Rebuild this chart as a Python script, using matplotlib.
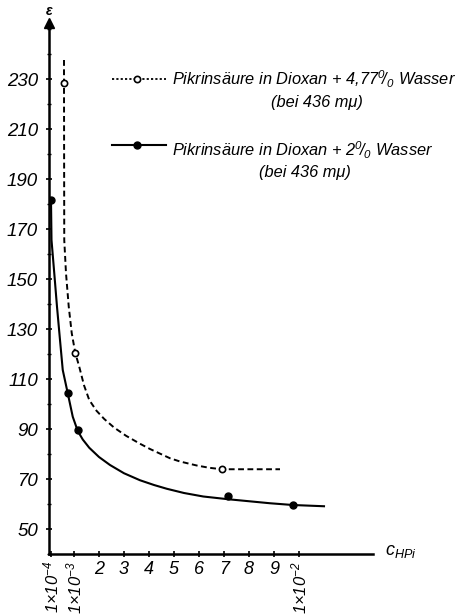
import matplotlib
matplotlib.use("Agg")
import matplotlib.pyplot as plt
from matplotlib import font_manager
from matplotlib.lines import Line2D
from matplotlib.ticker import FixedLocator, MultipleLocator

# ---------------- data (c in units of 1e-3 mol/l, epsilon) ----------------
# Series 1: Pikrinsaeure in Dioxan + 4.77 % Wasser (open circles, dashed curve)
c_open = [0.60, 1.05, 6.91]
eps_open = [228.3, 120.5, 73.9]
curve_open_c = [0.60, 0.60, 0.61, 0.68, 0.79, 0.91, 1.05, 1.21, 1.40, 1.61, 1.90,
                2.21, 2.60, 3.08, 3.64, 4.04, 4.84, 5.24, 5.91, 6.40, 6.91, 9.24]
curve_open_eps = [237.6, 228.3, 165.6, 152.3, 138.9, 128.3, 120.5, 114.9, 107.5, 101.6, 97.3,
                  94.0, 90.6, 87.3, 84.1, 82.0, 78.3, 77.0, 75.4, 74.5, 73.9, 73.9]

# Series 2: Pikrinsaeure in Dioxan + 2 % Wasser (filled circles, solid curve)
c_full = [0.08, 0.75, 1.15, 7.17, 9.75]
eps_full = [181.6, 104.3, 89.6, 63.3, 59.6]
curve_full_c = [0.08, 0.10, 0.21, 0.32, 0.44, 0.55, 0.75, 0.95, 1.15, 1.35, 1.61,
                2.00, 2.44, 3.00, 3.64, 4.20, 4.71, 5.40, 6.17, 7.17, 8.84, 9.75, 11.0]
curve_full_eps = [181.6, 165.6, 152.4, 138.9, 125.6, 113.6, 104.3, 94.9, 89.2, 85.8, 82.5,
                  78.8, 75.6, 72.3, 69.5, 67.6, 66.1, 64.4, 63.0, 61.9, 60.3, 59.6, 59.1]

x_tick_pos = [0.1, 1, 2, 3, 4, 5, 6, 7, 8, 9, 10]
x_tick_lab = [r'$1{\times}10^{-4}$', r'$1{\times}10^{-3}$', '2', '3', '4', '5', '6',
              '7', '8', '9', r'$1{\times}10^{-2}$']
y_ticks = [50, 70, 90, 110, 130, 150, 170, 190, 210, 230]

legend_1 = ['Pikrinsäure in Dioxan + 4,77$^{0}\\!/_{0}$ Wasser', '(bei 436 mμ)']
legend_2 = ['Pikrinsäure in Dioxan + 2$^{0}\\!/_{0}$ Wasser', '(bei 436 mμ)']

# ---------------- fonts ----------------
names = {f.name for f in font_manager.fontManager.ttflist}
base = 'Liberation Sans Narrow' if 'Liberation Sans Narrow' in names else 'Liberation Sans'
plt.rcParams['font.family'] = [base, 'DejaVu Sans']
plt.rcParams['font.style'] = 'italic'
plt.rcParams['mathtext.fontset'] = 'custom'
plt.rcParams['mathtext.rm'] = base + ':italic'
plt.rcParams['mathtext.it'] = base + ':italic'
plt.rcParams['mathtext.bf'] = base + ':bold:italic'

W, H = 464, 616
fig = plt.figure(figsize=(W / 100, H / 100), dpi=100)


def fx(x):
    return x / W


def fy(y):
    return 1 - y / H


ax_l, ax_r, ax_t, ax_b = 49, 373, 23, 554
ax = fig.add_axes([fx(ax_l), fy(ax_b), fx(ax_r - ax_l), (ax_b - ax_t) / H])
ax.set_xlim(0, 12.96)
ax.set_ylim(40, 252.4)

for s in ['top', 'right']:
    ax.spines[s].set_visible(False)
for s in ['left', 'bottom']:
    ax.spines[s].set_linewidth(1.8)

# curves
ax.plot(curve_open_c, curve_open_eps, color='black', lw=1.4, ls=(0, (3.0, 1.8)))
ax.plot(curve_full_c, curve_full_eps, color='black', lw=1.5, ls='-')
ax.plot(c_open, eps_open, ls='none', marker='o', ms=4.5, mfc='white', mec='black', mew=1.2)
ax.plot(c_full, eps_full, ls='none', marker='o', ms=5, mfc='black', mec='black')

# axis arrow heads
ax.plot([0], [1], marker='^', ms=7, color='black', transform=ax.get_xaxis_transform(),
        clip_on=False)
ax.plot([1], [0], marker='o', ms=7, color='black', transform=ax.get_yaxis_transform(),
        clip_on=False)

# ticks
ax.xaxis.set_major_locator(FixedLocator(x_tick_pos))
ax.set_xticklabels(x_tick_lab)
for lab, pos in zip(ax.get_xticklabels(), x_tick_pos):
    if pos in (0.1, 1, 10):
        lab.set_rotation(90)
        lab.set_va('top')
        lab.set_fontsize(12)
    else:
        lab.set_fontsize(13)
ax.yaxis.set_major_locator(FixedLocator(y_ticks))
ax.yaxis.set_minor_locator(MultipleLocator(10))
ax.set_yticklabels([str(v) for v in y_ticks], fontsize=13.5)
ax.tick_params(axis='both', which='major', direction='inout', length=4, width=1.2, pad=3)
ax.tick_params(axis='y', which='minor', direction='inout', length=3, width=1.0)
ax.tick_params(axis='y', which='major', pad=6)

# axis labels
fig.text(fx(49), fy(11), 'ε', fontsize=10, fontweight='bold', ha='center', va='center')
fig.text(fx(385), fy(552), r'$c_{HPi}$', fontsize=13, ha='left', va='center')

# legend
fig.add_artist(Line2D([fx(112), fx(166)], [fy(79), fy(79)], color='black', lw=1.3,
                      ls=(0, (1.2, 1.2))))
fig.add_artist(Line2D([fx(137)], [fy(79)], ls='none', marker='o', ms=4.5, mfc='white',
                      mec='black', mew=1.2))
fig.add_artist(Line2D([fx(112), fx(166)], [fy(145), fy(145)], color='black', lw=1.5))
fig.add_artist(Line2D([fx(137)], [fy(145)], ls='none', marker='o', ms=5, color='black'))

fs_leg = 11.8
fig.text(fx(172), fy(85), legend_1[0], fontsize=fs_leg, ha='left', va='baseline')
fig.text(fx(317), fy(107), legend_1[1], fontsize=fs_leg, ha='center', va='baseline')
fig.text(fx(172), fy(156), legend_2[0], fontsize=fs_leg, ha='left', va='baseline')
fig.text(fx(305), fy(177), legend_2[1], fontsize=fs_leg, ha='center', va='baseline')

fig.savefig('out.png', dpi=100)
